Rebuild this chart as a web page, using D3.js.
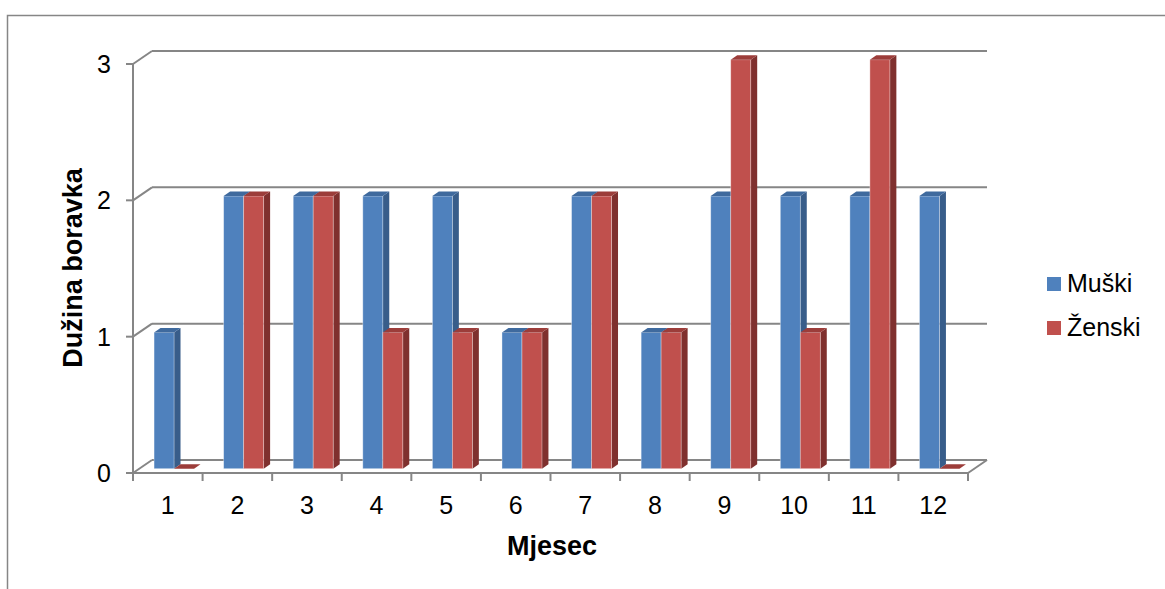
<!DOCTYPE html>
<html>
<head>
<meta charset="utf-8">
<script src="https://cdn.jsdelivr.net/npm/d3@7"></script>
<style>
  body { margin: 0; background: #fff; }
  text { font-family: "Liberation Sans", Arial, sans-serif; fill: #000; }
</style>
</head>
<body>
<svg id="chart" width="1165" height="589"></svg>
<script>
// data
var months	= ["1","2","3","4","5","6","7","8","9","10","11","12"];
var muski	= [1,2,2,2,2,1,2,1,2,2,2,2];
var zenski	= [0,2,2,1,1,1,2,1,3,1,3,0];
var yTicks	= [0,1,2,3];
var seriesNames	= ["Muški","Ženski"];

var svg	= d3.select("#chart"),
	grid	= "#868686",
	depthX	= 19, depthY = -13,		// full depth of the 3d box
	f0	= 0.33, f1 = 0.67;		// bars sit in the middle of the depth

var colors = [
	{front: "#4F81BD", side: "#385D8A", top: "#3F6A9E"},
	{front: "#C0504D", side: "#7F302E", top: "#9C3D3A"}
];

var x	= d3.scaleBand().domain(months).range([133, 968]).paddingInner(0.425).paddingOuter(0.2125),
	xs	= d3.scaleBand().domain([0,1]).range([0, x.bandwidth()]),
	y	= d3.scaleLinear().domain([0,3]).range([473, 64]),
	step	= x.step();

// chart border
svg.append("rect").attr("x", 7.5).attr("y", 15.5).attr("width", 1200).attr("height", 700)
	.attr("fill", "none").attr("stroke", grid).attr("stroke-width", 1.5);

// back wall gridlines + diagonals on the side wall
var g = svg.append("g");
yTicks.forEach(function(t) {
	var yy = y(t);
	g.append("line").attr("x1", 133 + depthX).attr("x2", 968 + depthX)
		.attr("y1", yy + depthY).attr("y2", yy + depthY)
		.attr("stroke", grid).attr("stroke-width", 2);
	g.append("line").attr("x1", 133).attr("x2", 133 + depthX)
		.attr("y1", yy).attr("y2", yy + depthY)
		.attr("stroke", grid).attr("stroke-width", 2);
	g.append("line").attr("x1", 126).attr("x2", 133)
		.attr("y1", yy).attr("y2", yy)
		.attr("stroke", grid).attr("stroke-width", 2);
	g.append("text").attr("x", 111).attr("y", yy).attr("dy", "0.36em")
		.attr("text-anchor", "end").style("font-size", "25px").text(t);
});
// floor
g.append("line").attr("x1", 133).attr("x2", 968).attr("y1", y(0)).attr("y2", y(0))
	.attr("stroke", grid).attr("stroke-width", 2);
g.append("line").attr("x1", 968).attr("x2", 968 + depthX).attr("y1", y(0)).attr("y2", y(0) + depthY)
	.attr("stroke", grid).attr("stroke-width", 2);
// y axis line
g.append("line").attr("x1", 133).attr("x2", 133).attr("y1", y(3)).attr("y2", y(0))
	.attr("stroke", grid).attr("stroke-width", 2);
// x ticks
d3.range(months.length + 1).forEach(function(i) {
	var xx = 133 + i * step;
	g.append("line").attr("x1", xx).attr("x2", xx).attr("y1", y(0)).attr("y2", y(0) + 8)
		.attr("stroke", grid).attr("stroke-width", 2);
});
months.forEach(function(m) {
	g.append("text").attr("x", x(m) + x.bandwidth() / 2).attr("y", 514)
		.attr("text-anchor", "middle").style("font-size", "25px").text(m);
});

// bars
function pts(a) { return a.map(function(p) { return p[0] + "," + p[1]; }).join(" "); }
var bars = svg.append("g");
months.forEach(function(m, i) {
	[muski[i], zenski[i]].forEach(function(v, s) {
		var c	= colors[s],
			x0	= x(m) + xs(s) + f0 * depthX,
			x1	= x0 + xs.bandwidth(),
			yb	= y(0) + f0 * depthY,
			yt	= y(v) + f0 * depthY,
			ddx	= (f1 - f0) * depthX,
			ddy	= (f1 - f0) * depthY;
		if (v > 0) {
			bars.append("polygon").attr("points", pts([[x1,yb],[x1+ddx,yb+ddy],[x1+ddx,yt+ddy],[x1,yt]]))
				.attr("fill", c.side);
			bars.append("rect").attr("x", x0).attr("y", yt).attr("width", x1 - x0).attr("height", yb - yt)
				.attr("fill", c.front).attr("stroke", "rgba(255,255,255,0.45)").attr("stroke-width", 0.8);
		}
		bars.append("polygon").attr("points", pts([[x0,yt],[x0+ddx,yt+ddy],[x1+ddx,yt+ddy],[x1,yt]]))
			.attr("fill", c.top);
	});
});

// axis titles
svg.append("text").attr("transform", "translate(82,268) rotate(-90)")
	.attr("text-anchor", "middle").style("font-size", "27px").style("font-weight", "bold")
	.text("Dužina boravka");
svg.append("text").attr("x", 552).attr("y", 555)
	.attr("text-anchor", "middle").style("font-size", "27px").style("font-weight", "bold")
	.text("Mjesec");

// legend
var leg = svg.append("g");
seriesNames.forEach(function(n, i) {
	leg.append("rect").attr("x", 1047).attr("y", 277 + i * 44).attr("width", 14).attr("height", 14)
		.attr("fill", colors[i].front);
	leg.append("text").attr("x", 1067).attr("y", 292 + i * 44).style("font-size", "25px").text(n);
});
</script>
</body>
</html>
